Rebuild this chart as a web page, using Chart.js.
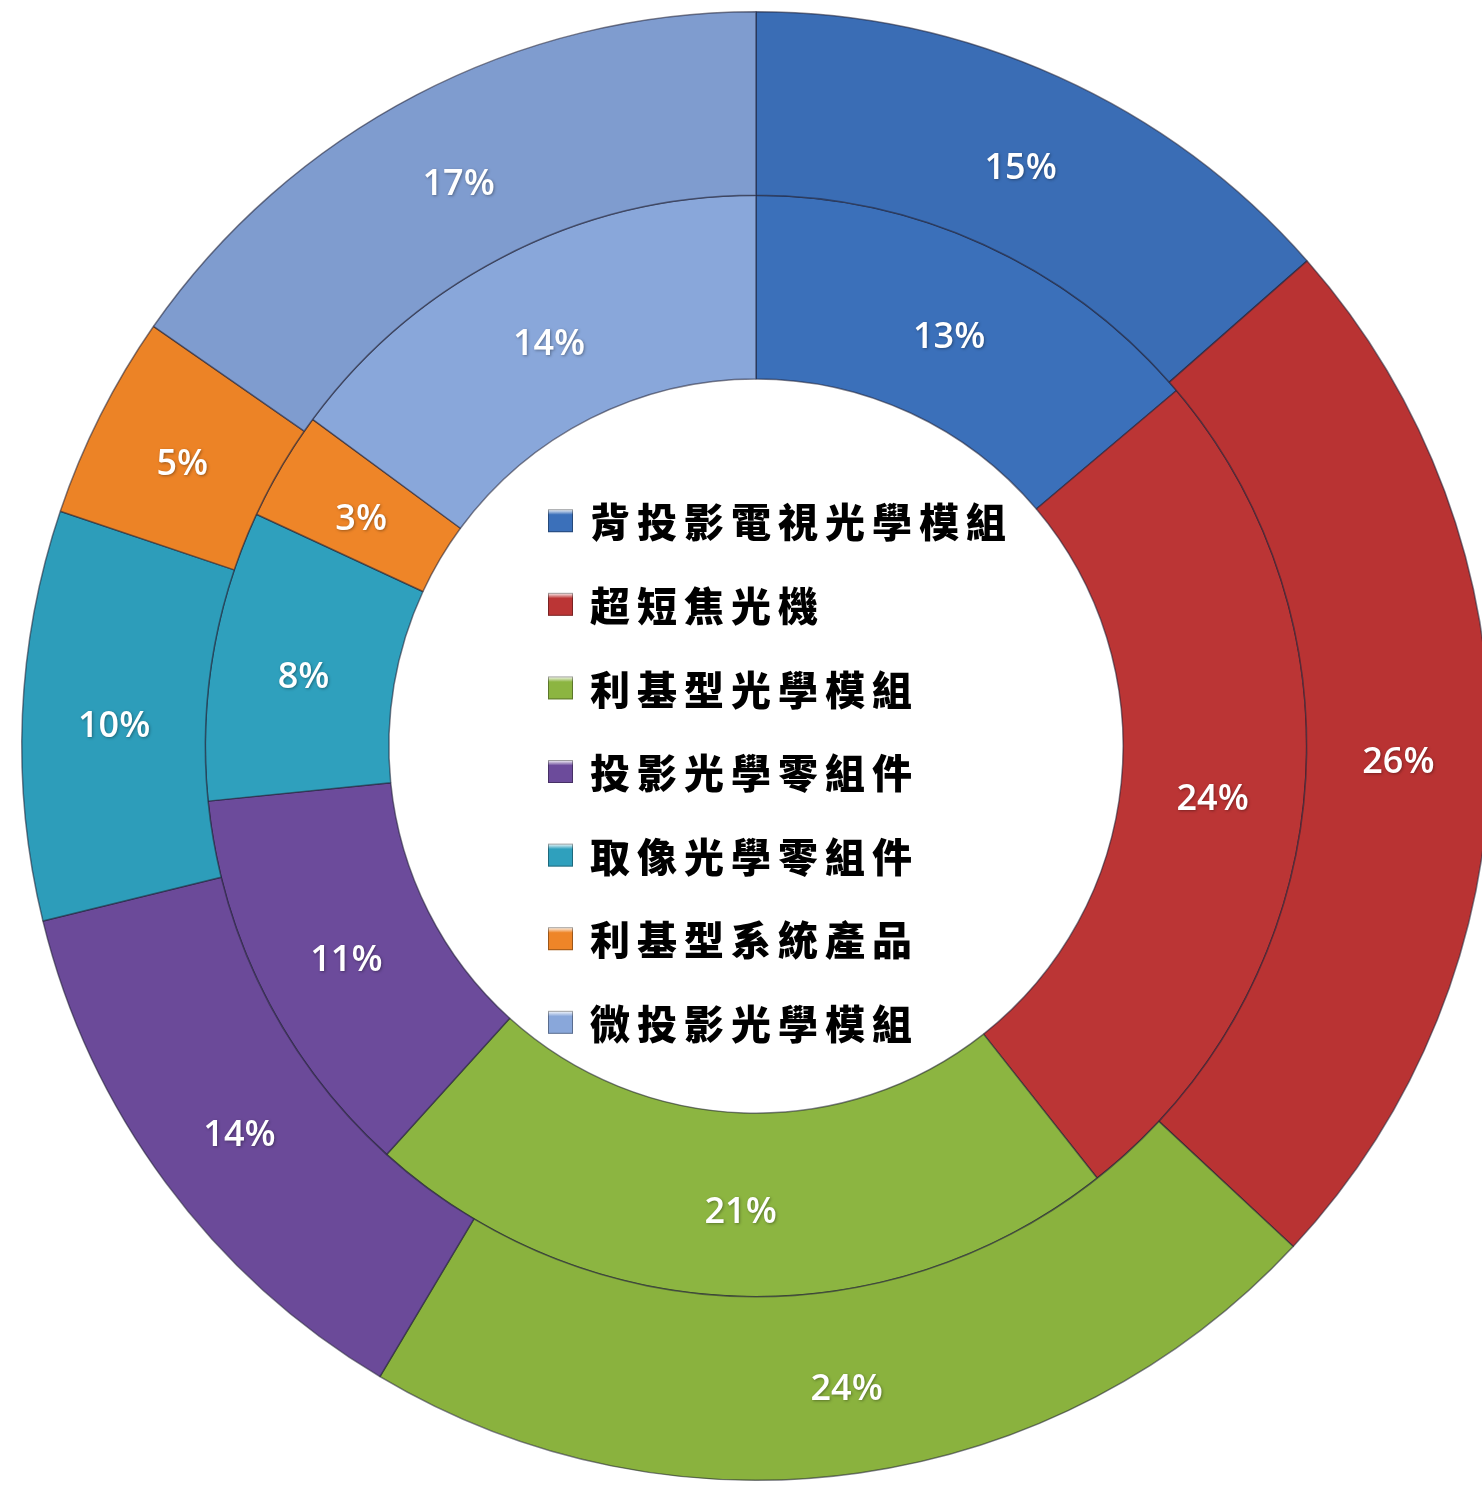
<!DOCTYPE html>
<html>
<head>
<meta charset="utf-8">
<script src="https://cdn.jsdelivr.net/npm/chart.js@4.4.0/dist/chart.umd.min.js"></script>
<style>
  html, body { margin: 0; padding: 0; background: #ffffff; overflow: hidden; }
  #wrap { position: relative; width: 1512px; height: 1488px; }
</style>
</head>
<body>
<div id="wrap"><canvas id="c"></canvas></div>
<script>
// ---- data ----
const categories = ['背投影電視光學模組', '超短焦光機', '利基型光學模組', '投影光學零組件', '取像光學零組件', '利基型系統產品', '微投影光學模組'];
const outerValues = [15, 26, 24, 14, 10, 5, 17];
const innerValues = [13, 24, 21, 11, 8, 3, 14];
const seriesNames = ['外圈', '內圈'];

// ---- styles ----
const outerColors = ['#3a6db5', '#b93333', '#8ab23e', '#6b4a99', '#2d9dba', '#ec8326', '#7f9ccf'];
const innerColors = ['#3b70ba', '#bb3535', '#8cb541', '#6c4b9b', '#2fa0bd', '#ee8528', '#89a7da'];

const labelPlugin = {
  id: 'ringLabels',
  afterDatasetsDraw(chart) {
    const ctx = chart.ctx;
    ctx.save();
    ctx.font = '600 36px "Open Sans", "Liberation Sans", sans-serif';
    ctx.fillStyle = '#ffffff';
    ctx.textAlign = 'center';
    ctx.textBaseline = 'middle';
    ctx.shadowColor = 'rgba(0,0,0,0.35)';
    ctx.shadowBlur = 3;
    ctx.shadowOffsetX = 1;
    ctx.shadowOffsetY = 1;
    chart.data.datasets.forEach((ds, di) => {
      const meta = chart.getDatasetMeta(di);
      meta.data.forEach((arc, i) => {
        const p = arc.getCenterPoint();
        ctx.fillText(ds.data[i] + '%', p.x, p.y + 8);
      });
    });
    ctx.restore();
  }
};

const centerLegend = {
  id: 'centerLegend',
  afterDraw(chart) {
    const ctx = chart.ctx;
    const ca = chart.chartArea;
    const cx = (ca.left + ca.right) / 2;
    const cy = (ca.top + ca.bottom) / 2;
    const x0 = cx - 208;   // box left
    const rowH = 83.6;
    const n = chart.data.labels.length;
    const yStart = cy - rowH * (n - 1) / 2 + 25;
    ctx.save();
    chart.data.labels.forEach((lab, i) => {
      const y = yStart + i * rowH;
      const col = chart.data.datasets[1].backgroundColor[i];
      const g = ctx.createLinearGradient(x0, y - 11, x0, y + 11);
      g.addColorStop(0, '#ffffff');
      g.addColorStop(0.25, col);
      g.addColorStop(1, col);
      ctx.fillStyle = g;
      ctx.fillRect(x0, y - 11, 25, 23);
      ctx.strokeStyle = 'rgba(0,0,0,0.35)';
      ctx.lineWidth = 1;
      ctx.strokeRect(x0 + 0.5, y - 10.5, 24, 22);
      ctx.fillStyle = '#000000';
      ctx.font = '900 40px "Noto Sans CJK TC", "Noto Sans CJK SC", sans-serif';
      ctx.textAlign = 'left';
      ctx.textBaseline = 'middle';
      try { ctx.letterSpacing = '7px'; } catch (e) {}
      ctx.fillText(lab, x0 + 42, y + 2);
    });
    ctx.restore();
  }
};

new Chart(document.getElementById('c'), {
  type: 'doughnut',
  data: {
    labels: categories,
    datasets: [
      { label: seriesNames[0], data: outerValues, backgroundColor: outerColors,
        borderColor: 'rgba(30,30,50,0.55)', borderWidth: 1.5 },
      { label: seriesNames[1], data: innerValues, backgroundColor: innerColors,
        borderColor: 'rgba(30,30,50,0.55)', borderWidth: 1.5 }
    ]
  },
  options: {
    responsive: true,
    maintainAspectRatio: false,
    animation: false,
    cutout: '50%',
    layout: { padding: { top: 11, bottom: 7, left: 21, right: 21 } },
    plugins: {
      legend: { display: false },
      tooltip: { enabled: false }
    }
  },
  plugins: [labelPlugin, centerLegend]
});
</script>
</body>
</html>
